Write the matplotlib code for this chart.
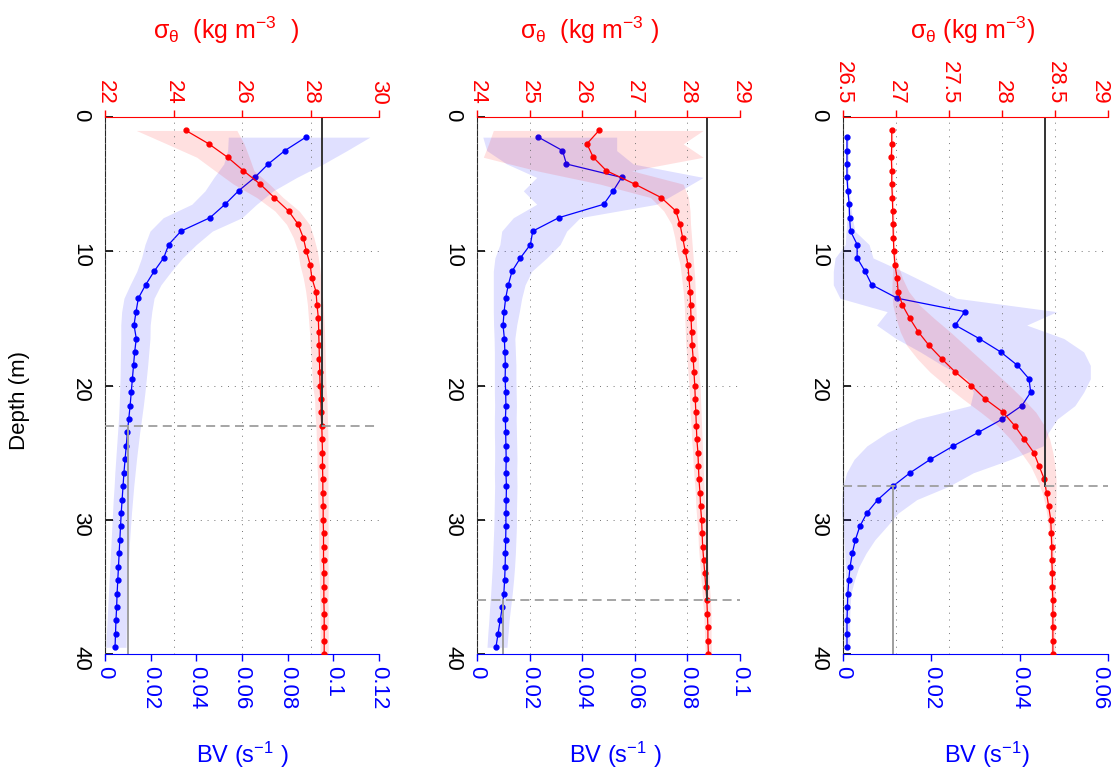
import matplotlib.pyplot as plt
from matplotlib.transforms import ScaledTranslation

plt.rcParams['font.family'] = ['Liberation Sans', 'DejaVu Sans']
plt.rcParams['mathtext.fontset'] = 'custom'
plt.rcParams['mathtext.rm'] = 'Liberation Sans'
plt.rcParams['mathtext.it'] = 'Liberation Sans'
plt.rcParams['mathtext.bf'] = 'Liberation Sans:bold'

# depth grids (m): density at whole metres, BV between them
depth_sig = list(range(1, 41))
depth_bv = [d + 0.5 for d in range(1, 40)]

# ---- panel 1 ----
sig1 = [24.36, 25.03, 25.58, 26.04, 26.53, 26.94, 27.36, 27.64, 27.79, 27.88,
        27.99, 28.04, 28.16, 28.19, 28.23, 28.24, 28.25, 28.26, 28.27, 28.28,
        28.30, 28.31, 28.33, 28.34, 28.35, 28.35, 28.36, 28.36, 28.37, 28.37,
        28.38, 28.38, 28.38, 28.39, 28.39, 28.39, 28.40, 28.40, 28.40, 28.40]
sig1_lo = [22.91, 23.80, 24.68, 25.21, 25.75, 26.43, 26.96, 27.30, 27.50, 27.63,
           27.69, 27.79, 27.86, 27.91, 27.94, 27.97, 27.99, 28.02, 28.04, 28.06,
           28.12, 28.13, 28.16, 28.17, 28.19, 28.19, 28.21, 28.21, 28.22, 28.23,
           28.24, 28.24, 28.25, 28.26, 28.26, 28.27, 28.28, 28.28, 28.28, 28.28]
sig1_hi = [25.85, 26.06, 26.21, 26.35, 26.80, 27.20, 27.67, 27.97, 28.10, 28.20,
           28.26, 28.30, 28.34, 28.37, 28.39, 28.41, 28.42, 28.43, 28.44, 28.45,
           28.48, 28.49, 28.50, 28.51, 28.51, 28.51, 28.51, 28.51, 28.52, 28.51,
           28.52, 28.52, 28.51, 28.52, 28.52, 28.51, 28.52, 28.52, 28.52, 28.52]
bv1 = [0.0880, 0.0788, 0.0715, 0.0656, 0.0585, 0.0526, 0.0460, 0.0333, 0.0279, 0.0257,
       0.0215, 0.0178, 0.0146, 0.0136, 0.0127, 0.0137, 0.0130, 0.0125, 0.0120, 0.0115,
       0.0110, 0.0104, 0.0098, 0.0093, 0.0088, 0.0083, 0.0079, 0.0075, 0.0071, 0.0068,
       0.0065, 0.0062, 0.0059, 0.0056, 0.0053, 0.0051, 0.0048, 0.0046, 0.0044]
bv1_lo = [0.0540, 0.0537, 0.0520, 0.0477, 0.0438, 0.0380, 0.0255, 0.0197, 0.0175, 0.0160,
          0.0139, 0.0110, 0.0083, 0.0073, 0.0069, 0.0069, 0.0068, 0.0067, 0.0066, 0.0064,
          0.0062, 0.0059, 0.0055, 0.0051, 0.0047, 0.0043, 0.0040, 0.0036, 0.0033, 0.0030,
          0.0027, 0.0024, 0.0021, 0.0018, 0.0015, 0.0012, 0.0009, 0.0006, 0.0004]
bv1_hi = [0.1160, 0.1060, 0.0956, 0.0840, 0.0737, 0.0664, 0.0600, 0.0470, 0.0400, 0.0340,
          0.0290, 0.0245, 0.0215, 0.0205, 0.0198, 0.0197, 0.0192, 0.0187, 0.0181, 0.0175,
          0.0168, 0.0160, 0.0152, 0.0145, 0.0138, 0.0132, 0.0126, 0.0121, 0.0116, 0.0112,
          0.0108, 0.0105, 0.0102, 0.0099, 0.0097, 0.0095, 0.0094, 0.0093, 0.0092]
mld1, sig_ml1, bv_crit1 = 23.0, 28.33, 0.0101

# ---- panel 2 ----
sig2 = [26.32, 26.09, 26.21, 26.46, 27.00, 27.50, 27.78, 27.86, 27.91, 27.96,
        28.01, 28.03, 28.05, 28.06, 28.07, 28.08, 28.09, 28.11, 28.125, 28.14,
        28.15, 28.16, 28.17, 28.18, 28.20, 28.21, 28.22, 28.24, 28.25, 28.27,
        28.28, 28.29, 28.31, 28.33, 28.35, 28.37, 28.38, 28.39, 28.39, 28.40]
sig2_lo = [24.31, 24.22, 24.12, 25.13, 26.34, 27.30, 27.55, 27.70, 27.76, 27.80,
           27.86, 27.89, 27.92, 27.94, 27.95, 27.96, 27.97, 27.99, 28.01, 28.03,
           28.04, 28.05, 28.07, 28.08, 28.10, 28.11, 28.13, 28.15, 28.16, 28.18,
           28.20, 28.21, 28.23, 28.25, 28.27, 28.29, 28.31, 28.32, 28.33, 28.34]
sig2_hi = [28.30, 27.92, 28.30, 26.94, 27.92, 28.02, 28.05, 28.06, 28.08, 28.10,
           28.12, 28.14, 28.15, 28.16, 28.17, 28.18, 28.19, 28.21, 28.22, 28.24,
           28.25, 28.26, 28.27, 28.28, 28.29, 28.30, 28.31, 28.32, 28.33, 28.35,
           28.36, 28.37, 28.39, 28.41, 28.42, 28.44, 28.45, 28.45, 28.45, 28.46]
bv2 = [0.0233, 0.0325, 0.0340, 0.0550, 0.0518, 0.0482, 0.0311, 0.0212, 0.0203, 0.0165,
       0.0133, 0.0119, 0.0109, 0.0103, 0.0099, 0.0104, 0.0106, 0.0108, 0.0107, 0.0109,
       0.0110, 0.0108, 0.0109, 0.0110, 0.0111, 0.0110, 0.0112, 0.0111, 0.0110, 0.0110,
       0.0109, 0.0108, 0.0107, 0.0105, 0.0102, 0.0096, 0.0088, 0.0080, 0.0072]
bv2_lo = [0.0022, 0.0037, 0.0113, 0.0227, 0.0176, 0.0227, 0.0138, 0.0094, 0.0087, 0.0068,
          0.0062, 0.0062, 0.0062, 0.0062, 0.0063, 0.0065, 0.0066, 0.0066, 0.0066, 0.0066,
          0.0067, 0.0066, 0.0066, 0.0067, 0.0067, 0.0066, 0.0067, 0.0066, 0.0065, 0.0064,
          0.0062, 0.0060, 0.0058, 0.0055, 0.0052, 0.0048, 0.0045, 0.0041, 0.0038]
bv2_hi = [0.0531, 0.0531, 0.0594, 0.0860, 0.0772, 0.0683, 0.0392, 0.0341, 0.0316, 0.0265,
          0.0208, 0.0183, 0.0170, 0.0161, 0.0151, 0.0144, 0.0146, 0.0148, 0.0148, 0.0149,
          0.0150, 0.0149, 0.0150, 0.0151, 0.0152, 0.0151, 0.0152, 0.0151, 0.0150, 0.0150,
          0.0148, 0.0146, 0.0143, 0.0139, 0.0134, 0.0128, 0.0122, 0.0118, 0.0114]
mld2, sig_ml2, bv_crit2 = 36.0, 28.37, 0.0099

# ---- panel 3 ----
sig3 = [26.96, 26.96, 26.956, 26.96, 26.96, 26.966, 26.969, 26.972, 26.975, 26.98,
        26.99, 27.01, 27.02, 27.06, 27.13, 27.21, 27.31, 27.43, 27.56, 27.71,
        27.84, 28.01, 28.12, 28.21, 28.30, 28.35, 28.40, 28.42, 28.44, 28.46,
        28.465, 28.47, 28.47, 28.475, 28.475, 28.48, 28.48, 28.48, 28.48, 28.48]
sig3_lo = [26.95, 26.95, 26.95, 26.95, 26.95, 26.955, 26.96, 26.96, 26.965, 26.97,
           26.97, 26.965, 26.96, 26.97, 27.00, 27.04, 27.10, 27.20, 27.32, 27.47,
           27.63, 27.80, 27.96, 28.08, 28.18, 28.27, 28.33, 28.38, 28.41, 28.43,
           28.445, 28.45, 28.45, 28.455, 28.455, 28.46, 28.46, 28.46, 28.46, 28.46]
sig3_hi = [26.97, 26.97, 26.97, 26.97, 26.97, 26.975, 26.98, 26.985, 26.985, 26.99,
           27.02, 27.06, 27.12, 27.22, 27.36, 27.51, 27.65, 27.79, 27.93, 28.07,
           28.20, 28.32, 28.40, 28.45, 28.48, 28.50, 28.51, 28.51, 28.51, 28.50,
           28.49, 28.49, 28.49, 28.50, 28.50, 28.50, 28.50, 28.50, 28.50, 28.50]
bv3 = [0.0009, 0.0009, 0.0009, 0.0009, 0.0011, 0.0014, 0.0015, 0.0017, 0.0032, 0.0032,
       0.0050, 0.0065, 0.0123, 0.0276, 0.0254, 0.0308, 0.0357, 0.0395, 0.0421, 0.0425,
       0.0405, 0.0361, 0.0306, 0.0250, 0.0198, 0.0152, 0.0113, 0.0079, 0.0054, 0.0038,
       0.0028, 0.0021, 0.0016, 0.0013, 0.0011, 0.0010, 0.0009, 0.0009, 0.0009]
bv3_lo = [0.0006, 0.0006, 0.0006, 0.0006, 0.0008, 0.0011, 0.0009, 0.0007, 0.0005, -0.0018,
          -0.0022, -0.0022, -0.0007, 0.0100, 0.0076, 0.0120, 0.0175, 0.0225, 0.0280, 0.0295,
          0.0288, 0.0167, 0.0100, 0.0054, 0.0025, 0.0008, 0.0000, -0.0003, -0.0003, 0.0000,
          0.0002, 0.0004, 0.0005, 0.0006, 0.0005, 0.0004, 0.0003, 0.0003, 0.0003]
bv3_hi = [0.0012, 0.0012, 0.0012, 0.0012, 0.0014, 0.0017, 0.0021, 0.0027, 0.0059, 0.0068,
          0.0135, 0.0197, 0.0257, 0.0484, 0.0416, 0.0500, 0.0545, 0.0560, 0.0560, 0.0545,
          0.0525, 0.0485, 0.0465, 0.0453, 0.0380, 0.0295, 0.0240, 0.0167, 0.0125, 0.0099,
          0.0072, 0.0052, 0.0036, 0.0026, 0.0018, 0.0016, 0.0015, 0.0015, 0.0015]
mld3, sig_ml3, bv_crit3 = 27.5, 28.41, 0.0113

depth_ticks = [0, 10, 20, 30, 40]

panels = [
    dict(rect=[105, 117, 379, 654], bv=(bv1, bv1_lo, bv1_hi), sig=(sig1, sig1_lo, sig1_hi),
         bv_lim=(0, 0.12), bv_ticks=[0, 0.02, 0.04, 0.06, 0.08, 0.1, 0.12],
         bv_labels=['0', '0.02', '0.04', '0.06', '0.08', '0.1', '0.12'],
         sig_lim=(22, 30), sig_ticks=[22, 24, 26, 28, 30],
         sig_labels=['22', '24', '26', '28', '30'],
         mld=mld1, sig_ml=sig_ml1, bv_crit=bv_crit1,
         sig_title=r'$\sigma_\theta$  (kg m$^{-3}$  )', sig_x=0.44,
         bv_title=r'BV (s$^{-1}$ )', bv_x=0.50),
    dict(rect=[477, 117, 740, 654], bv=(bv2, bv2_lo, bv2_hi), sig=(sig2, sig2_lo, sig2_hi),
         bv_lim=(0, 0.1), bv_ticks=[0, 0.02, 0.04, 0.06, 0.08, 0.1],
         bv_labels=['0', '0.02', '0.04', '0.06', '0.08', '0.1'],
         sig_lim=(24, 29), sig_ticks=[24, 25, 26, 27, 28, 29],
         sig_labels=['24', '25', '26', '27', '28', '29'],
         mld=mld2, sig_ml=sig_ml2, bv_crit=bv_crit2,
         sig_title=r'$\sigma_\theta$  (kg m$^{-3}$ )', sig_x=0.426,
         bv_title=r'BV (s$^{-1}$ )', bv_x=0.525),
    dict(rect=[843, 117, 1108, 654], bv=(bv3, bv3_lo, bv3_hi), sig=(sig3, sig3_lo, sig3_hi),
         bv_lim=(0, 0.06), bv_ticks=[0, 0.02, 0.04, 0.06],
         bv_labels=['0', '0.02', '0.04', '0.06'],
         sig_lim=(26.5, 29), sig_ticks=[26.5, 27, 27.5, 28, 28.5, 29],
         sig_labels=['26.5', '27', '27.5', '28', '28.5', '29'],
         mld=mld3, sig_ml=sig_ml3, bv_crit=bv_crit3,
         sig_title=r'$\sigma_\theta$ (kg m$^{-3}$)', sig_x=0.49,
         bv_title=r'BV (s$^{-1}$)', bv_x=0.543),
]

W, H = 1116, 769
fig = plt.figure(figsize=(W / 100, H / 100), dpi=100)

grid_kw = dict(color='0.45', linestyle=(0, (1, 6)), linewidth=0.7)
tick_fs = 16

for p in panels:
    x0, y0, x1, y1 = p['rect']
    ax = fig.add_axes([x0 / W, 1 - y1 / H, (x1 - x0) / W, (y1 - y0) / H])
    ax.set_xlim(p['bv_lim'])
    ax.set_ylim(40, 0)

    bv, bv_lo, bv_hi = p['bv']
    ax.fill_betweenx(depth_bv, bv_lo, bv_hi, color='blue', alpha=0.12, lw=0, clip_on=False)
    ax.plot(bv, depth_bv, color='blue', lw=0.9, marker='.', ms=7)
    ax.plot([p['bv_crit'], p['bv_crit']], [p['mld'], 40], color='0.62', lw=1.4)

    ax.set_xticks(p['bv_ticks'])
    ax.set_xticklabels(p['bv_labels'])
    ax.set_yticks(depth_ticks)
    ax.tick_params(axis='x', colors='blue', direction='out', length=5, width=1,
                   labelsize=tick_fs, labelrotation=-90, pad=4)
    ax.tick_params(axis='y', colors='black', direction='in', length=6, width=1.2,
                   labelsize=tick_fs, labelrotation=-90, pad=10)
    ax.grid(axis='y', **grid_kw)
    ax.set_axisbelow(True)
    for s in ['top', 'right']:
        ax.spines[s].set_visible(False)
    ax.spines['bottom'].set_color('blue')
    ax.spines['left'].set_color('0.15')

    ax2 = ax.twiny()
    ax2.set_xlim(p['sig_lim'])
    sig, sig_lo, sig_hi = p['sig']
    ax2.fill_betweenx(depth_sig, sig_lo, sig_hi, color='red', alpha=0.12, lw=0)
    ax2.plot(sig, depth_sig, color='red', lw=0.9, marker='.', ms=7)
    ax2.plot([p['sig_ml'], p['sig_ml']], [0, p['mld']], color='0.2', lw=1.4)
    ax2.axhline(p['mld'], color='0.62', lw=1.3, linestyle=(0, (5, 3)))
    ax2.set_xticks(p['sig_ticks'])
    ax2.set_xticklabels(p['sig_labels'])
    ax2.tick_params(axis='x', colors='red', direction='out', length=5, width=1,
                    labelsize=tick_fs, labelrotation=-90, pad=4)
    ax2.grid(axis='x', **grid_kw)
    for s in ['bottom', 'left', 'right']:
        ax2.spines[s].set_visible(False)
    ax2.spines['top'].set_color('red')

    # rightmost labels sit at the figure edge: nudge them inwards a little
    if x1 > W - 20:
        shift = ScaledTranslation(-6 / 72, 0, fig.dpi_scale_trans)
        for lab in (ax.get_xticklabels()[-1], ax2.get_xticklabels()[-1]):
            lab.set_transform(lab.get_transform() + shift)

    ax.text(p['sig_x'], (y1 - 30) / (y1 - y0), p['sig_title'], transform=ax.transAxes,
            color='red', fontsize=18, ha='center', va='center')
    ax.text(p['bv_x'], (y1 - 755) / (y1 - y0), p['bv_title'], transform=ax.transAxes,
            color='blue', fontsize=17, ha='center', va='center')

fig.text(20 / W, 1 - 400 / H, 'Depth (m)', rotation=90, fontsize=16,
         ha='center', va='center')

fig.savefig('out.png', dpi=100)
